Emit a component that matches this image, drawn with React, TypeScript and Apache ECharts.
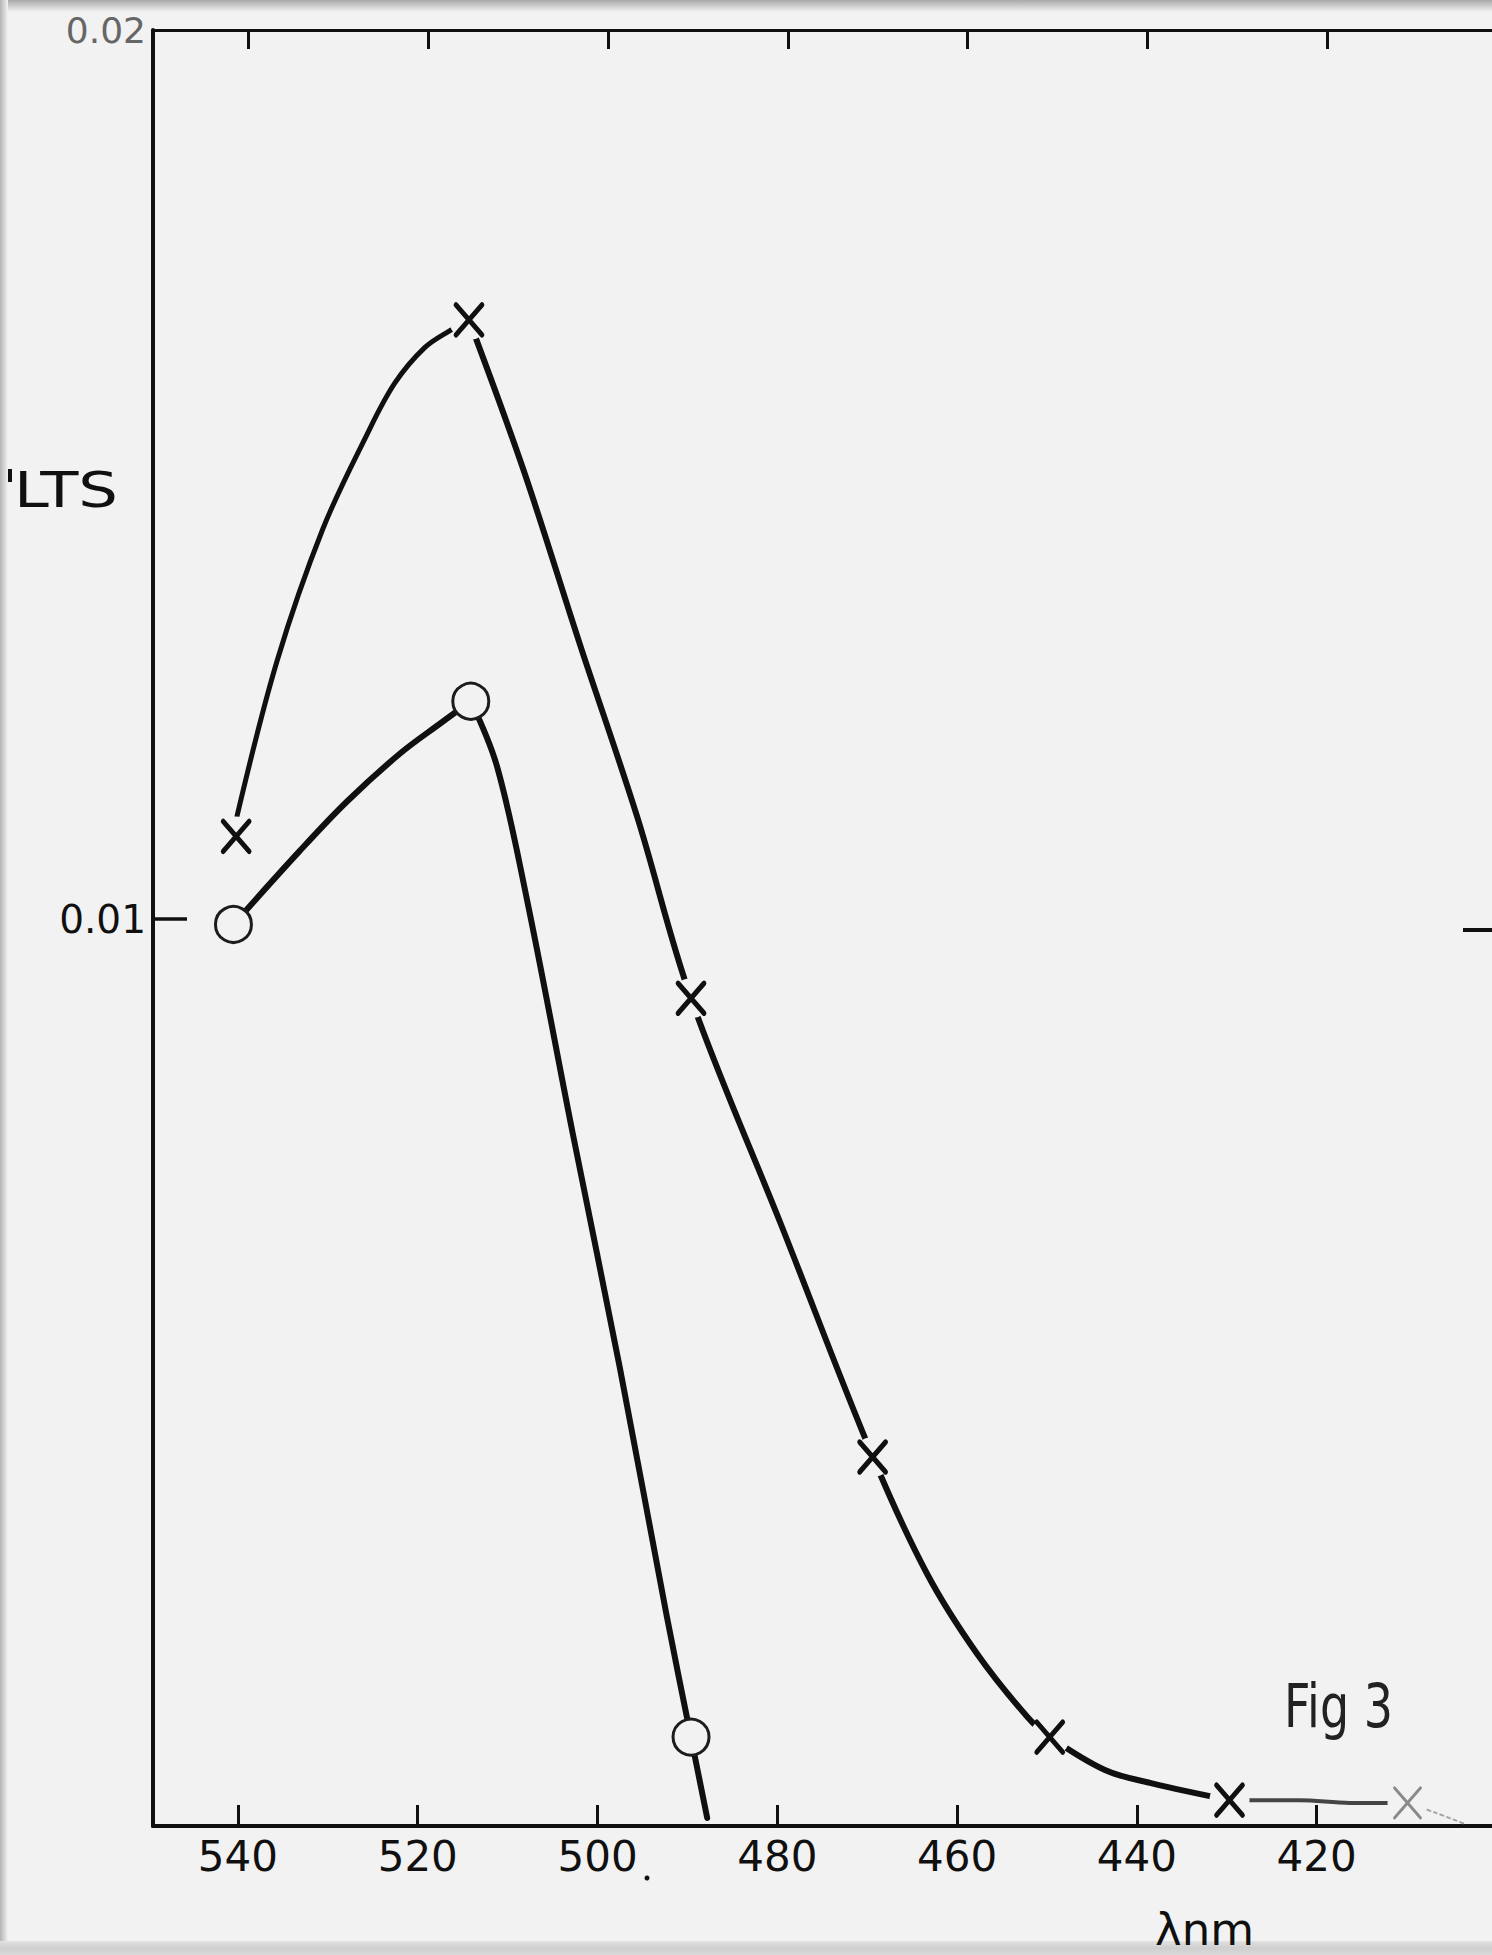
import React, { useEffect, useRef } from "react";
import * as echarts from "echarts";

// ---- axis ticks / labels ----
const xTicks = [540, 520, 500, 480, 460, 440, 420];
const yLabelValues = [0.01, 0.02];
const yTickValues = [0.01];
const rightTickValues = [0.01];

// ---- plotted points (wavelength nm, volts) ----
const crossNm = [540.2, 514.3, 489.6, 469.4, 449.7, 429.7];
const crossVolts = [0.01093, 0.01674, 0.00911, 0.00395, 0.0008, 0.00009];
const faintCrossNm = [409.9];
const faintCrossVolts = [0.00006];

const circleNm = [540.5, 514.1, 489.6];
const circleVolts = [0.00994, 0.01245, 0.0008];

// ---- hand-drawn curves ----
const crossRiseNm = [540.1, 535.66, 530.55, 525.65, 522.54, 519.2, 516.42, 514.3];
const crossRiseVolts = [0.01116, 0.0129, 0.01439, 0.01545, 0.01603, 0.01643, 0.01662, 0.01674];

const crossFallNm = [514.3, 508.3, 501.96, 495.62, 489.61, 479.49, 469.37, 463.36, 457.8, 452.13, 449.68, 443.56, 438.33, 429.66];
const crossFallVolts = [0.01674, 0.01507, 0.01309, 0.01116, 0.00911, 0.00654, 0.00395, 0.00264, 0.00174, 0.00102, 0.0008, 0.00043, 0.00028, 0.00009];

const crossFaintNm = [429.66, 421.9, 416.3, 409.9];
const crossFaintVolts = [0.00009, 0.00009, 0.00006, 0.00006];

const crossTailNm = [409.9, 406.8, 403.7];
const crossTailVolts = [0.00006, -0.00005, -0.00017];

const circleRiseNm = [540.5, 533.1, 527.9, 522.0, 517.5, 514.1];
const circleRiseVolts = [0.00994, 0.01077, 0.01132, 0.01186, 0.0122, 0.01245];

const circleFallNm = [514.08, 511.19, 507.85, 502.74, 497.51, 492.28, 489.61, 487.8];
const circleFallVolts = [0.01245, 0.01172, 0.01022, 0.00758, 0.00495, 0.00215, 0.0008, -0.00011];

const BG = "#f2f2f2";
const INK = "#101010";
const FONT = "DejaVu Sans";

const zip = (a: number[], b: number[]) => a.map((x, i) => [x, b[i]]);

const curve = (data: number[][], color: string, width: number, type: any = "solid") => ({
  type: "line",
  data,
  symbol: "none",
  smooth: 0.35,
  clip: false,
  silent: true,
  z: 2,
  lineStyle: { color, width, cap: "round", join: "round", type, opacity: 1 },
});

export default function App() {
  const ref = useRef<HTMLDivElement>(null);

  useEffect(() => {
    if (!ref.current) return;
    const chart = echarts.init(ref.current, null, { renderer: "svg" });
    const crossSymbol = "path://M0,0L26,30M26,0L0,30";

    chart.setOption({
      animation: false,
      backgroundColor: BG,
      grid: { left: 153, right: 0, top: 30, bottom: 129, containLabel: false },
      xAxis: [
        {
          type: "value",
          position: "bottom",
          min: 400.5,
          max: 549.45,
          inverse: true,
          axisLine: { show: true, onZero: false, lineStyle: { color: INK, width: 4 } },
          axisTick: { show: true, inside: true, length: 21, customValues: xTicks, lineStyle: { color: INK, width: 3 } },
          axisLabel: {
            show: true,
            customValues: xTicks,
            margin: 9,
            fontSize: 42,
            color: INK,
            fontFamily: FONT,
          },
          splitLine: { show: false },
        },
        {
          type: "value",
          position: "top",
          min: 401.67,
          max: 550.62,
          inverse: true,
          axisLine: { show: true, onZero: false, lineStyle: { color: INK, width: 3 } },
          axisTick: { show: true, inside: true, length: 19, customValues: xTicks, lineStyle: { color: INK, width: 3 } },
          axisLabel: { show: false },
          splitLine: { show: false },
        },
      ],
      yAxis: [
        {
          type: "value",
          position: "left",
          min: -0.0002,
          max: 0.02,
          axisLine: { show: true, onZero: false, lineStyle: { color: INK, width: 4 } },
          axisTick: { show: true, inside: true, length: 34, customValues: yTickValues, lineStyle: { color: INK, width: 3.5 } },
          axisLabel: {
            show: true,
            customValues: yLabelValues,
            margin: 7,
            formatter: (v: number) => (Math.abs(v - 0.02) < 1e-9 ? "{g|0.02}" : "{b|" + v + "}"),
            rich: {
              g: { fontSize: 36, color: "#666666", fontFamily: FONT },
              b: { fontSize: 39, color: INK, fontFamily: FONT },
            },
          },
          splitLine: { show: false },
        },
        {
          type: "value",
          position: "right",
          min: -0.000076,
          max: 0.020124,
          axisLine: { show: false, onZero: false },
          axisTick: { show: true, inside: true, length: 29, customValues: rightTickValues, lineStyle: { color: INK, width: 4 } },
          axisLabel: { show: false },
          splitLine: { show: false },
        },
      ],
      series: [
        curve(zip(crossRiseNm, crossRiseVolts), INK, 5),
        curve(zip(crossFallNm, crossFallVolts), INK, 6),
        curve(zip(crossFaintNm, crossFaintVolts), "#454545", 4),
        curve(zip(crossTailNm, crossTailVolts), "#a3a3a3", 2, [3, 4]),
        curve(zip(circleRiseNm, circleRiseVolts), INK, 6),
        curve(zip(circleFallNm, circleFallVolts), INK, 6),
        {
          type: "scatter",
          data: zip(crossNm, crossVolts).concat(zip(faintCrossNm, faintCrossVolts)),
          symbol: "circle",
          symbolSize: 40,
          itemStyle: { color: BG, opacity: 1 },
          silent: true,
          z: 3,
        },
        {
          type: "scatter",
          data: zip(crossNm, crossVolts),
          symbol: crossSymbol,
          symbolSize: [26, 30],
          itemStyle: { color: "none", borderColor: INK, borderWidth: 5, borderCap: "round", opacity: 1 },
          silent: true,
          z: 4,
        },
        {
          type: "scatter",
          data: zip(faintCrossNm, faintCrossVolts),
          symbol: crossSymbol,
          symbolSize: [26, 30],
          itemStyle: { color: "none", borderColor: "#8a8a8a", borderWidth: 3, borderCap: "round", opacity: 1 },
          silent: true,
          z: 4,
        },
        {
          type: "scatter",
          data: zip(circleNm, circleVolts),
          symbol: "circle",
          symbolSize: 36,
          itemStyle: { color: BG, borderColor: "#1c1c1c", borderWidth: 3, opacity: 1 },
          silent: true,
          z: 5,
        },
      ],
      graphic: [
        {
          type: "rect",
          shape: { x: 0, y: 0, width: 1492, height: 12 },
          style: {
            fill: new echarts.graphic.LinearGradient(0, 0, 0, 1, [
              { offset: 0, color: "#a9a9a9" },
              { offset: 1, color: BG },
            ]),
          },
          silent: true,
          z: 0,
        },
        {
          type: "rect",
          shape: { x: 0, y: 0, width: 8, height: 1955 },
          style: {
            fill: new echarts.graphic.LinearGradient(0, 0, 1, 0, [
              { offset: 0, color: "#b4b4b4" },
              { offset: 1, color: BG },
            ]),
          },
          silent: true,
          z: 0,
        },
        {
          type: "rect",
          shape: { x: 0, y: 1941, width: 1492, height: 14 },
          style: {
            fill: new echarts.graphic.LinearGradient(0, 0, 0, 1, [
              { offset: 0, color: "#e2e2e2" },
              { offset: 0.5, color: "#cfcfcf" },
              { offset: 1, color: "#dadada" },
            ]),
          },
          silent: true,
          z: 0,
        },
        {
          type: "text",
          x: 14,
          y: 489,
          scaleX: 1.25,
          style: { text: "LTS", fontSize: 50, fontFamily: FONT, fill: INK, verticalAlign: "middle", align: "left" },
          silent: true,
          z: 10,
        },
        {
          type: "rect",
          shape: { x: 8, y: 469, width: 4, height: 13 },
          style: { fill: INK },
          silent: true,
          z: 10,
        },
        {
          type: "text",
          x: 1284,
          y: 1676,
          scaleY: 1.3,
          style: { text: "Fig 3", fontSize: 46, fontFamily: FONT, fill: "#222222", verticalAlign: "top", align: "left" },
          silent: true,
          z: 10,
        },
        {
          type: "text",
          x: 1155,
          y: 1952,
          style: { text: "λnm", fontSize: 45, fontFamily: FONT, fill: INK, verticalAlign: "bottom", align: "left" },
          silent: true,
          z: 10,
        },
        {
          type: "circle",
          shape: { cx: 647, cy: 1878, r: 2.5 },
          style: { fill: INK },
          silent: true,
          z: 10,
        },
      ],
    });

    return () => chart.dispose();
  }, []);

  return (
    <div
      ref={ref}
      style={{ position: "fixed", left: 0, top: 0, width: 1492, height: 1955 }}
    />
  );
}
